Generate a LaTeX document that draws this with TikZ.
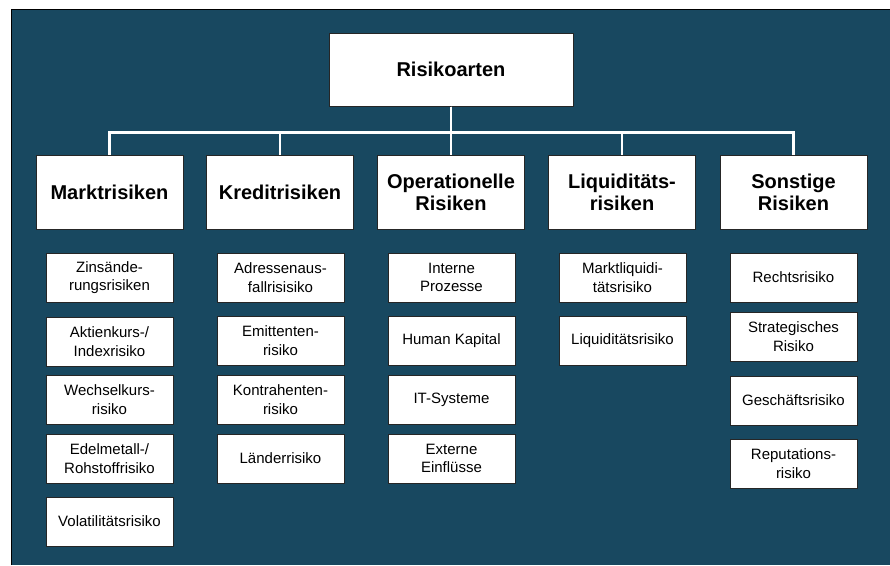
\documentclass[tikz,border=0pt]{standalone}
\usepackage{fontspec}
\setmainfont{Liberation Sans}
\definecolor{bgblue}{RGB}{24,72,96}
\begin{document}
\begin{tikzpicture}[x=0.75pt,y=-0.75pt,
  topbox/.style={draw=black!85,fill=white,line width=0.75pt,minimum width=244*0.75pt,minimum height=73*0.75pt,inner sep=0pt,font=\fontsize{15}{17}\selectfont\bfseries,align=center},
  catbox/.style={draw=black!85,fill=white,line width=0.75pt,minimum width=147*0.75pt,minimum height=74*0.75pt,inner sep=0pt,font=\fontsize{15}{16.5}\selectfont\bfseries,align=center},
  subbox/.style={draw=black!85,fill=white,line width=0.75pt,minimum width=127*0.75pt,minimum height=49*0.75pt,inner sep=0pt,font=\fontsize{11.25}{13.8}\selectfont,align=center},
  conn/.style={draw=white,line width=2pt}]
\useasboundingbox (0,0) rectangle (890,565);
\fill[bgblue] (11,9) rectangle (890,565);
\draw[black,line width=0.75pt] (11,565) -- (11,9) -- (890,9);

\node[topbox] (top) at (451,69.5) {Risikoarten};

\node[catbox] (markt) at (109.5,192) {Marktrisiken};
\node[catbox] (kredit) at (280,192) {Kreditrisiken};
\node[catbox] (oper) at (451,192) {Operationelle\\Risiken};
\node[catbox] (liqu) at (622,192) {Liquiditäts-\\risiken};
\node[catbox] (sonst) at (793.5,192) {Sonstige\\Risiken};

\foreach \c in {markt,kredit,oper,liqu,sonst}
  \draw[conn] (top.south) -- ++(0,26) -| (\c.north);

\node[subbox] (m1) at (109.5,277.5) {Zinsände-\\rungsrisiken};
\node[subbox] (m2) at (109.5,341.5) {Aktienkurs-/\\Indexrisiko};
\node[subbox] (m3) at (109.5,399.5) {Wechselkurs-\\risiko};
\node[subbox] (m4) at (109.5,458.5) {Edelmetall-/\\Rohstoffrisiko};
\node[subbox] (m5) at (109.5,521.5) {Volatilitätsrisiko};

\node[subbox] (k1) at (280.5,277.5) {Adressenaus-\\fallrisisiko};
\node[subbox] (k2) at (280.5,340.5) {Emittenten-\\risiko};
\node[subbox] (k3) at (280.5,399.5) {Kontrahenten-\\risiko};
\node[subbox] (k4) at (280.5,458.5) {Länderrisiko};

\node[subbox] (o1) at (451.5,277.5) {Interne\\Prozesse};
\node[subbox] (o2) at (451.5,341) {Human Kapital};
\node[subbox] (o3) at (451.5,399.5) {IT-Systeme};
\node[subbox] (o4) at (451.5,458.5) {Externe\\Einflüsse};

\node[subbox] (l1) at (622.5,277.5) {Marktliquidi-\\tätsrisiko};
\node[subbox] (l2) at (622.5,341) {Liquiditätsrisiko};

\node[subbox] (s1) at (793.5,277.5) {Rechtsrisiko};
\node[subbox] (s2) at (793.5,336.5) {Strategisches\\Risiko};
\node[subbox] (s3) at (793.5,400.5) {Geschäftsrisiko};
\node[subbox] (s4) at (793.5,463.5) {Reputations-\\risiko};
\end{tikzpicture}
\end{document}
